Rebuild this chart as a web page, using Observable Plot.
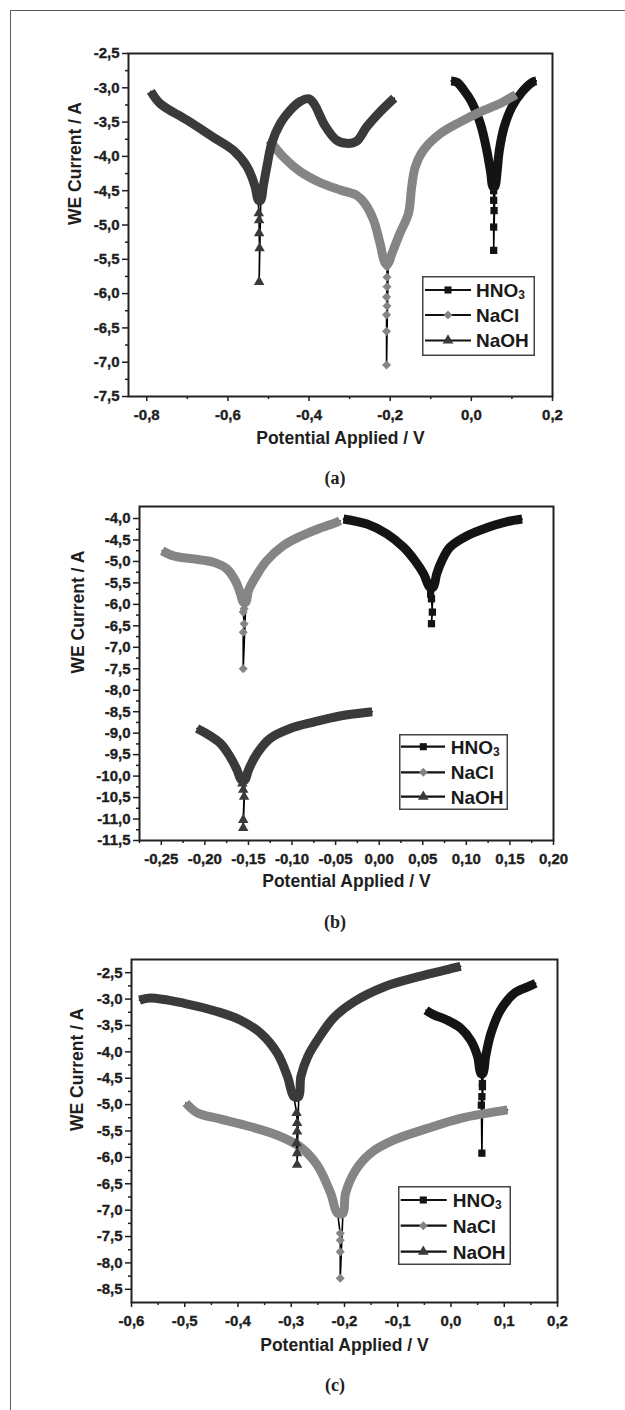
<!DOCTYPE html>
<html><head><meta charset="utf-8">
<script src="https://cdn.jsdelivr.net/npm/d3@7"></script>
<script src="https://cdn.jsdelivr.net/npm/@observablehq/plot@0.6"></script>
<style>
body{margin:0;background:#fff;}
#page{position:relative;width:625px;height:1410px;overflow:hidden;background:#fff;font-family:"Liberation Sans",Arial,sans-serif;}
#border{position:absolute;left:10px;top:10px;width:640px;height:1420px;border-top:1.5px solid #5a5a5a;border-left:1.5px solid #5a5a5a;}
.panel{position:absolute;left:0;}
.cap{position:absolute;left:285px;width:100px;height:22px;line-height:22px;text-align:center;font-family:"Liberation Serif","Times New Roman",serif;font-weight:bold;font-size:18px;color:#222;}
</style></head><body><div id="page"><div id="border"></div></div>
<script>
// ---------- series ----------
const names = ["HNO3", "NaCl", "NaOH"];
const colors = ["#141414", "#858585", "#3a3a3a"];

// ---------- panel (a) data [potential V, log current] ----------
const aHNO3Left  = [[-0.050,-2.90],[-0.035,-2.92],[-0.019,-3.03],[0.000,-3.20],[0.022,-3.52],[0.038,-3.91],[0.048,-4.25],[0.053,-4.44]];
const aHNO3Tip   = [[0.055,-4.50],[0.055,-4.64],[0.056,-4.79],[0.055,-5.03],[0.055,-5.37]];
const aHNO3Right = [[0.058,-4.44],[0.063,-4.25],[0.069,-3.91],[0.081,-3.57],[0.100,-3.28],[0.125,-3.06],[0.150,-2.92],[0.160,-2.90]];
const aNaClLeft  = [[-0.498,-3.76],[-0.463,-4.01],[-0.422,-4.22],[-0.373,-4.38],[-0.323,-4.49],[-0.282,-4.57],[-0.262,-4.69],[-0.241,-4.93],[-0.225,-5.27],[-0.212,-5.56]];
const aNaClTip   = [[-0.208,-5.61],[-0.208,-5.76],[-0.208,-5.90],[-0.209,-6.05],[-0.208,-6.18],[-0.209,-6.31],[-0.209,-6.55],[-0.209,-7.04]];
const aNaClRight = [[-0.205,-5.56],[-0.196,-5.42],[-0.176,-5.12],[-0.155,-4.83],[-0.147,-4.44],[-0.138,-4.15],[-0.118,-3.91],[-0.077,-3.67],[-0.028,-3.50],[0.022,-3.35],[0.071,-3.23],[0.104,-3.12],[0.110,-3.10]];
const aNaOHLeft  = [[-0.790,-3.05],[-0.767,-3.23],[-0.701,-3.47],[-0.636,-3.72],[-0.587,-3.91],[-0.553,-4.15],[-0.533,-4.44],[-0.525,-4.64]];
const aNaOHTip   = [[-0.524,-4.83],[-0.523,-4.93],[-0.523,-5.12],[-0.522,-5.34],[-0.523,-5.83]];
const aNaOHRight = [[-0.519,-4.64],[-0.513,-4.44],[-0.504,-4.15],[-0.492,-3.81],[-0.471,-3.52],[-0.447,-3.33],[-0.422,-3.20],[-0.400,-3.16],[-0.387,-3.24],[-0.361,-3.55],[-0.333,-3.76],[-0.307,-3.81],[-0.283,-3.78],[-0.258,-3.57],[-0.225,-3.35],[-0.190,-3.15]];

// ---------- panel (b) data ----------
const bHNO3Left  = [[-0.041,-4.01],[-0.014,-4.13],[0.009,-4.36],[0.028,-4.67],[0.041,-4.98],[0.051,-5.29],[0.058,-5.60]];
const bHNO3Tip   = [[0.059,-5.76],[0.060,-5.87],[0.061,-6.18],[0.060,-6.45]];
const bHNO3Right = [[0.062,-5.60],[0.066,-5.29],[0.072,-4.98],[0.081,-4.67],[0.101,-4.40],[0.124,-4.21],[0.147,-4.07],[0.164,-4.01]];
const bNaClLeft  = [[-0.249,-4.75],[-0.236,-4.87],[-0.213,-4.94],[-0.190,-5.02],[-0.175,-5.17],[-0.165,-5.45],[-0.159,-5.76],[-0.156,-5.95]];
const bNaClTip   = [[-0.155,-6.10],[-0.156,-6.18],[-0.155,-6.45],[-0.156,-6.65],[-0.156,-7.50]];
const bNaClRight = [[-0.153,-5.95],[-0.150,-5.68],[-0.142,-5.37],[-0.129,-4.98],[-0.110,-4.63],[-0.091,-4.42],[-0.071,-4.25],[-0.049,-4.09],[-0.045,-4.05]];
const bNaOHLeft  = [[-0.209,-8.89],[-0.198,-9.01],[-0.182,-9.24],[-0.171,-9.55],[-0.163,-9.86],[-0.158,-10.09]];
const bNaOHTip   = [[-0.157,-10.17],[-0.156,-10.32],[-0.155,-10.48],[-0.156,-11.02],[-0.156,-11.21]];
const bNaOHRight = [[-0.154,-10.09],[-0.150,-9.86],[-0.140,-9.47],[-0.125,-9.12],[-0.102,-8.89],[-0.075,-8.74],[-0.045,-8.60],[-0.008,-8.50]];

// ---------- panel (c) data ----------
const cHNO3Left  = [[-0.047,-3.21],[-0.032,-3.30],[-0.007,-3.40],[0.018,-3.55],[0.037,-3.78],[0.050,-4.09],[0.056,-4.41]];
const cHNO3Tip   = [[0.059,-4.60],[0.059,-4.66],[0.058,-4.85],[0.057,-5.01],[0.058,-5.92]];
const cHNO3Right = [[0.060,-4.41],[0.065,-4.09],[0.075,-3.65],[0.093,-3.21],[0.119,-2.89],[0.144,-2.77],[0.159,-2.70]];
const cNaClLeft  = [[-0.498,-4.97],[-0.476,-5.16],[-0.438,-5.26],[-0.376,-5.42],[-0.326,-5.58],[-0.282,-5.81],[-0.251,-6.15],[-0.226,-6.68],[-0.213,-7.06]];
const cNaClTip   = [[-0.208,-7.44],[-0.208,-7.57],[-0.208,-7.79],[-0.208,-8.29]];
const cNaClRight = [[-0.203,-7.06],[-0.198,-6.68],[-0.179,-6.24],[-0.151,-5.92],[-0.107,-5.67],[-0.044,-5.45],[0.018,-5.26],[0.069,-5.16],[0.106,-5.10]];
const cNaOHLeft  = [[-0.585,-3.02],[-0.565,-2.98],[-0.501,-3.08],[-0.438,-3.24],[-0.395,-3.40],[-0.357,-3.65],[-0.326,-4.03],[-0.307,-4.47],[-0.295,-4.85]];
const cNaOHTip   = [[-0.290,-5.16],[-0.289,-5.35],[-0.289,-5.51],[-0.290,-5.73],[-0.289,-5.92],[-0.289,-6.14]];
const cNaOHRight = [[-0.286,-4.85],[-0.282,-4.47],[-0.269,-4.09],[-0.251,-3.78],[-0.220,-3.35],[-0.182,-3.05],[-0.126,-2.77],[-0.063,-2.58],[-0.007,-2.44],[0.018,-2.38]];

// ---------- ticks ----------
const aXMajor = [-0.8,-0.6,-0.4,-0.2,0,0.2];
const aXMinor = [-0.7,-0.5,-0.3,-0.1,0.1];
const aYMajor = [-2.5,-3,-3.5,-4,-4.5,-5,-5.5,-6,-6.5,-7,-7.5];
const aYMinor = [-2.75,-3.25,-3.75,-4.25,-4.75,-5.25,-5.75,-6.25,-6.75,-7.25];
const bXMajor = [-0.25,-0.2,-0.15,-0.1,-0.05,0,0.05,0.1,0.15,0.2];
const bXMinor = [-0.275,-0.225,-0.175,-0.125,-0.075,-0.025,0.025,0.075,0.125,0.175];
const bYMajor = [-4,-4.5,-5,-5.5,-6,-6.5,-7,-7.5,-8,-8.5,-9,-9.5,-10,-10.5,-11,-11.5];
const bYMinor = [-4.25,-4.75,-5.25,-5.75,-6.25,-6.75,-7.25,-7.75,-8.25,-8.75,-9.25,-9.75,-10.25,-10.75,-11.25];
const cXMajor = [-0.6,-0.5,-0.4,-0.3,-0.2,-0.1,0,0.1,0.2];
const cXMinor = [-0.55,-0.45,-0.35,-0.25,-0.15,-0.05,0.05,0.15];
const cYMajor = [-2.5,-3,-3.5,-4,-4.5,-5,-5.5,-6,-6.5,-7,-7.5,-8,-8.5];
const cYMinor = [-2.75,-3.25,-3.75,-4.25,-4.75,-5.25,-5.75,-6.25,-6.75,-7.25,-7.75,-8.25];

const plotSymbols = ["square", "diamond2", "triangle"];
const symR = [4.1, 4.1, 3.9];
const FONT = "Liberation Sans, Arial, sans-serif";

function makePanel(p) {
  const X = d => d[0], Y = d => d[1];
  const fx = d => d.toFixed(p.xDigits).replace(".", ",");
  const fy = d => d.toFixed(1).replace(".", ",");
  const txt = {fontFamily: FONT, fontSize: 15, fontWeight: "bold", textStroke: "#1e1e1e", textStrokeWidth: 0.35};
  const marks = [];
  p.series.forEach((s, i) => {
    marks.push(Plot.line(s.left.concat(s.tip, s.right), {x: X, y: Y, stroke: "#000", strokeWidth: 1.6}));
    marks.push(Plot.line(s.left.concat(s.right), {x: X, y: Y, stroke: colors[i], strokeWidth: 9, curve: "catmull-rom", strokeLinejoin: "round", strokeLinecap: "butt"}));
    marks.push(Plot.dot(s.tip, {x: X, y: Y, symbol: plotSymbols[i], r: symR[i], fill: colors[i], stroke: "none"}));
  });
  marks.push(Plot.axisY(p.yMinor, {anchor: "left", tickSize: 3, tickFormat: () => "", label: null, strokeWidth: 1.5}));
  marks.push(Plot.axisY(p.yMajor, {anchor: "left", tickSize: 6, tickPadding: 3, tickFormat: fy, label: null, strokeWidth: 1.5, ...txt}));
  marks.push(Plot.axisX(p.xMinor, {anchor: "bottom", tickSize: 3, tickFormat: () => "", label: null, strokeWidth: 1.5}));
  marks.push(Plot.axisX(p.xMajor, {anchor: "bottom", tickSize: 5, tickPadding: 8, tickFormat: fx, label: null, strokeWidth: 1.5, ...txt}));
  marks.push(Plot.frame({stroke: "#222", strokeWidth: 2}));
  marks.push(Plot.text(["Potential Applied / V"], {text: d => d, frameAnchor: "bottom", dy: p.xTitleDy, fontFamily: FONT, fontSize: 17.5, fontWeight: "bold"}));
  marks.push(Plot.text(["WE Current / A"], {text: d => d, frameAnchor: "left", dx: p.yTitleDx, rotate: -90, fontFamily: FONT, fontSize: 17.5, fontWeight: "bold"}));
  return Plot.plot({
    width: 625, height: p.height,
    marginLeft: p.ml, marginRight: p.mr, marginTop: p.mt, marginBottom: p.mb,
    x: {domain: p.xDomain}, y: {domain: p.yDomain},
    style: {fontFamily: FONT, fontSize: "15px", fontWeight: "bold", color: "#1e1e1e", background: "transparent", overflow: "visible"},
    marks
  });
}

const d3Symbols = [d3.symbolSquare, d3.symbolDiamond2, d3.symbolTriangle];
function makeLegend(L) {
  const svg = d3.create("svg").attr("width", L.w).attr("height", L.h)
    .style("position", "absolute").style("left", L.left + "px").style("top", L.top + "px").style("overflow", "visible");
  svg.append("rect").attr("x", 0.75).attr("y", 0.75).attr("width", L.w - 1.5).attr("height", L.h - 1.5)
    .attr("fill", "#fff").attr("stroke", "#444").attr("stroke-width", 1.5);
  names.forEach((n, i) => {
    const y = L.rows[i];
    svg.append("line").attr("x1", L.lx0).attr("x2", L.lx1).attr("y1", y).attr("y2", y).attr("stroke", "#111").attr("stroke-width", 2.2);
    svg.append("path").attr("d", d3.symbol(d3Symbols[i], 50)()).attr("transform", `translate(${L.mx},${y})`).attr("fill", colors[i]);
    const t = svg.append("text").attr("x", L.tx).attr("y", y).attr("dy", "0.36em")
      .attr("font-family", FONT).attr("font-weight", "bold").attr("font-size", 19).attr("fill", "#1a1a1a");
    if (n === "HNO3") {
      t.append("tspan").text("HNO");
      t.append("tspan").attr("font-size", 12).attr("dy", 2).text("3");
    } else t.text(n);
  });
  return svg.node();
}

const page = document.getElementById("page");
const panels = [
  {top: 0, height: 470, ml: 128, mr: 73, mt: 53, mb: 74, xDomain: [-0.845, 0.2], yDomain: [-7.5, -2.5], xDigits: 1,
   xMajor: aXMajor, xMinor: aXMinor, yMajor: aYMajor, yMinor: aYMinor, xTitleDy: 47, yTitleDx: -53,
   series: [{left: aHNO3Left, tip: aHNO3Tip, right: aHNO3Right}, {left: aNaClLeft, tip: aNaClTip, right: aNaClRight}, {left: aNaOHLeft, tip: aNaOHTip, right: aNaOHRight}],
   legend: {left: 422, top: 276, w: 113, h: 80, rows: [14, 39, 64.5], lx0: 3, lx1: 49, mx: 26, tx: 54},
   cap: "(a)", capY: 467},
  {top: 470, height: 430, ml: 139, mr: 72, mt: 36, mb: 60, xDomain: [-0.275, 0.2], yDomain: [-11.5, -3.72], xDigits: 2,
   xMajor: bXMajor, xMinor: bXMinor, yMajor: bYMajor, yMinor: bYMinor, xTitleDy: 46, yTitleDx: -61,
   series: [{left: bHNO3Left, tip: bHNO3Tip, right: bHNO3Right}, {left: bNaClLeft, tip: bNaClTip, right: bNaClRight}, {left: bNaOHLeft, tip: bNaOHTip, right: bNaOHRight}],
   legend: {left: 399, top: 734, w: 109, h: 76, rows: [12.7, 38.3, 62.7], lx0: 2, lx1: 46, mx: 24.3, tx: 51.7},
   cap: "(b)", capY: 911},
  {top: 930, height: 440, ml: 131, mr: 68, mt: 29, mb: 68, xDomain: [-0.6, 0.2], yDomain: [-8.75, -2.25], xDigits: 1,
   xMajor: cXMajor, xMinor: cXMinor, yMajor: cYMajor, yMinor: cYMinor, xTitleDy: 48, yTitleDx: -54,
   series: [{left: cHNO3Left, tip: cHNO3Tip, right: cHNO3Right}, {left: cNaClLeft, tip: cNaClTip, right: cNaClRight}, {left: cNaOHLeft, tip: cNaOHTip, right: cNaOHRight}],
   legend: {left: 398, top: 1186, w: 113, h: 79, rows: [14, 39.7, 65.7], lx0: 2.7, lx1: 48.7, mx: 25.3, tx: 54.7},
   cap: "(c)", capY: 1374}
];
panels.forEach(p => {
  const div = document.createElement("div");
  div.className = "panel";
  div.style.top = p.top + "px";
  div.appendChild(makePanel(p));
  page.appendChild(div);
  page.appendChild(makeLegend(p.legend));
  const cap = document.createElement("div");
  cap.className = "cap";
  cap.style.top = p.capY + "px";
  cap.textContent = p.cap;
  page.appendChild(cap);
});
</script></body></html>
